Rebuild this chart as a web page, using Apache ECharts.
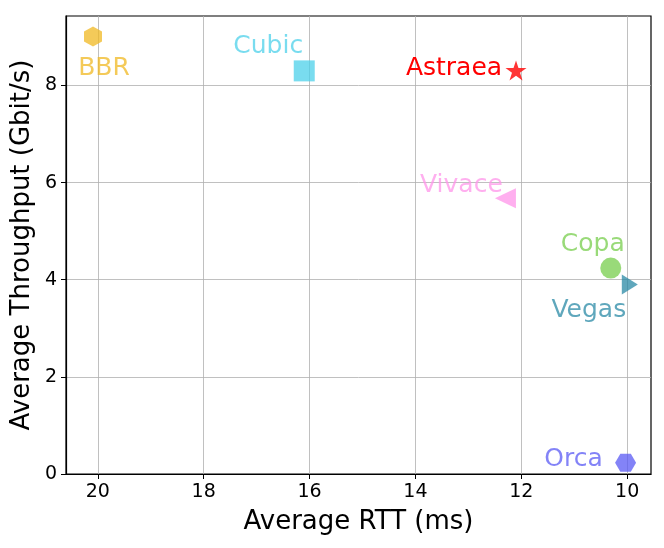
<!DOCTYPE html>
<html>
<head>
<meta charset="utf-8">
<script src="https://cdn.jsdelivr.net/npm/echarts@6/dist/echarts.min.js"></script>
<style>
  html, body { margin: 0; padding: 0; background: #fff; }
  #chart { width: 664px; height: 548px; }
</style>
</head>
<body>
<div id="chart"></div>
<script>
// data
const names = ['BBR', 'Cubic', 'Astraea', 'Vivace', 'Copa', 'Vegas', 'Orca'];
const rtt = [20.09, 16.1, 12.1, 12.3, 10.31, 9.95, 10.03];
const throughput = [9.01, 8.3, 8.31, 5.68, 4.24, 3.9, 0.23];
const xTicks = [20, 18, 16, 14, 12, 10];
const yTicks = [0, 2, 4, 6, 8];

// marker looks
const colors = ['#F0B822', '#4CD0EA', '#FF1010', '#FF94EA', '#77CD4C', '#2A8AA6', '#5A5AF4'];
const labelColors = ['#F0B822', '#4CD0EA', '#FF0000', '#FF94EA', '#77CD4C', '#2A8AA6', '#5A5AF4'];
const hexUp = 'path://M0,-1 L0.866,-0.5 L0.866,0.5 L0,1 L-0.866,0.5 L-0.866,-0.5 Z';
const hexSide = 'path://M-1,0 L-0.5,-0.866 L0.5,-0.866 L1,0 L0.5,0.866 L-0.5,0.866 Z';
const star = 'path://M0,-1 L0.2245,-0.309 L0.951,-0.309 L0.363,0.118 L0.588,0.809 L0,0.382 L-0.588,0.809 L-0.363,0.118 L-0.951,-0.309 L-0.2245,-0.309 Z';
const triLeft = 'path://M-1,0 L1,-1 L1,1 Z';
const triRight = 'path://M1,0 L-1,-1 L-1,1 Z';
const symbols = [hexUp, 'rect', star, triLeft, 'circle', triRight, hexSide];
const symbolSizes = [[18, 20], [21, 21], [21, 20], [21, 20], [21, 21], [16, 20], [21, 18]];
const labelOffsets = [[11, 32], [-36, -24], [-62, -2], [-44, -13], [-18, -24], [-41, 26], [-52, -3]];
const alphas = [0.75, 0.75, 0.85, 0.75, 0.75, 0.75, 0.75];
const labelAlphas = [0.75, 0.75, 1, 0.75, 0.75, 0.75, 0.75];

const font = 'DejaVu Sans';
const chart = echarts.init(document.getElementById('chart'));

const series = names.map((n, i) => ({
    name: n,
    type: 'scatter',
    symbol: symbols[i],
    symbolSize: symbolSizes[i],
    itemStyle: { color: colors[i], opacity: alphas[i] },
    label: {
        show: true,
        formatter: n,
        position: 'inside',
        offset: labelOffsets[i],
        align: 'center',
        verticalAlign: 'middle',
        color: labelColors[i],
        opacity: labelAlphas[i],
        fontFamily: font,
        fontSize: 25
    },
    emphasis: { disabled: true },
    data: [[rtt[i], throughput[i]]]
}));

chart.setOption({
    animation: false,
    backgroundColor: '#fff',
    grid: {
        left: 66, right: 13, top: 16, bottom: 74,
        show: true, borderColor: '#000', borderWidth: 1.2
    },
    xAxis: {
        type: 'value',
        inverse: true,
        min: 9.55,
        max: 20.6,
        name: 'Average RTT (ms)',
        nameLocation: 'middle',
        nameGap: 35,
        nameTextStyle: { fontFamily: font, fontSize: 26, color: '#000' },
        axisLine: { show: true, onZero: false, lineStyle: { color: '#000', width: 1.2 } },
        axisTick: { show: true, inside: false, length: 5, customValues: xTicks, lineStyle: { color: '#000' } },
        axisLabel: { customValues: xTicks, margin: 9, fontFamily: font, fontSize: 19, color: '#000' },
        splitLine: { show: true, lineStyle: { color: '#b0b0b0', width: 0.8 } }
    },
    yAxis: {
        type: 'value',
        min: 0,
        max: 9.43,
        name: 'Average Throughput (Gbit/s)',
        nameLocation: 'middle',
        nameGap: 31,
        nameMoveOverlap: false,
        nameTextStyle: { fontFamily: font, fontSize: 26, color: '#000' },
        axisLine: { show: true, lineStyle: { color: '#000', width: 1.2 } },
        axisTick: { show: true, inside: false, length: 5, customValues: yTicks, lineStyle: { color: '#000' } },
        axisLabel: { customValues: yTicks, margin: 9, fontFamily: font, fontSize: 19, color: '#000' },
        splitLine: { show: true, lineStyle: { color: '#b0b0b0', width: 0.8 } }
    },
    series: series
});
</script>
</body>
</html>
